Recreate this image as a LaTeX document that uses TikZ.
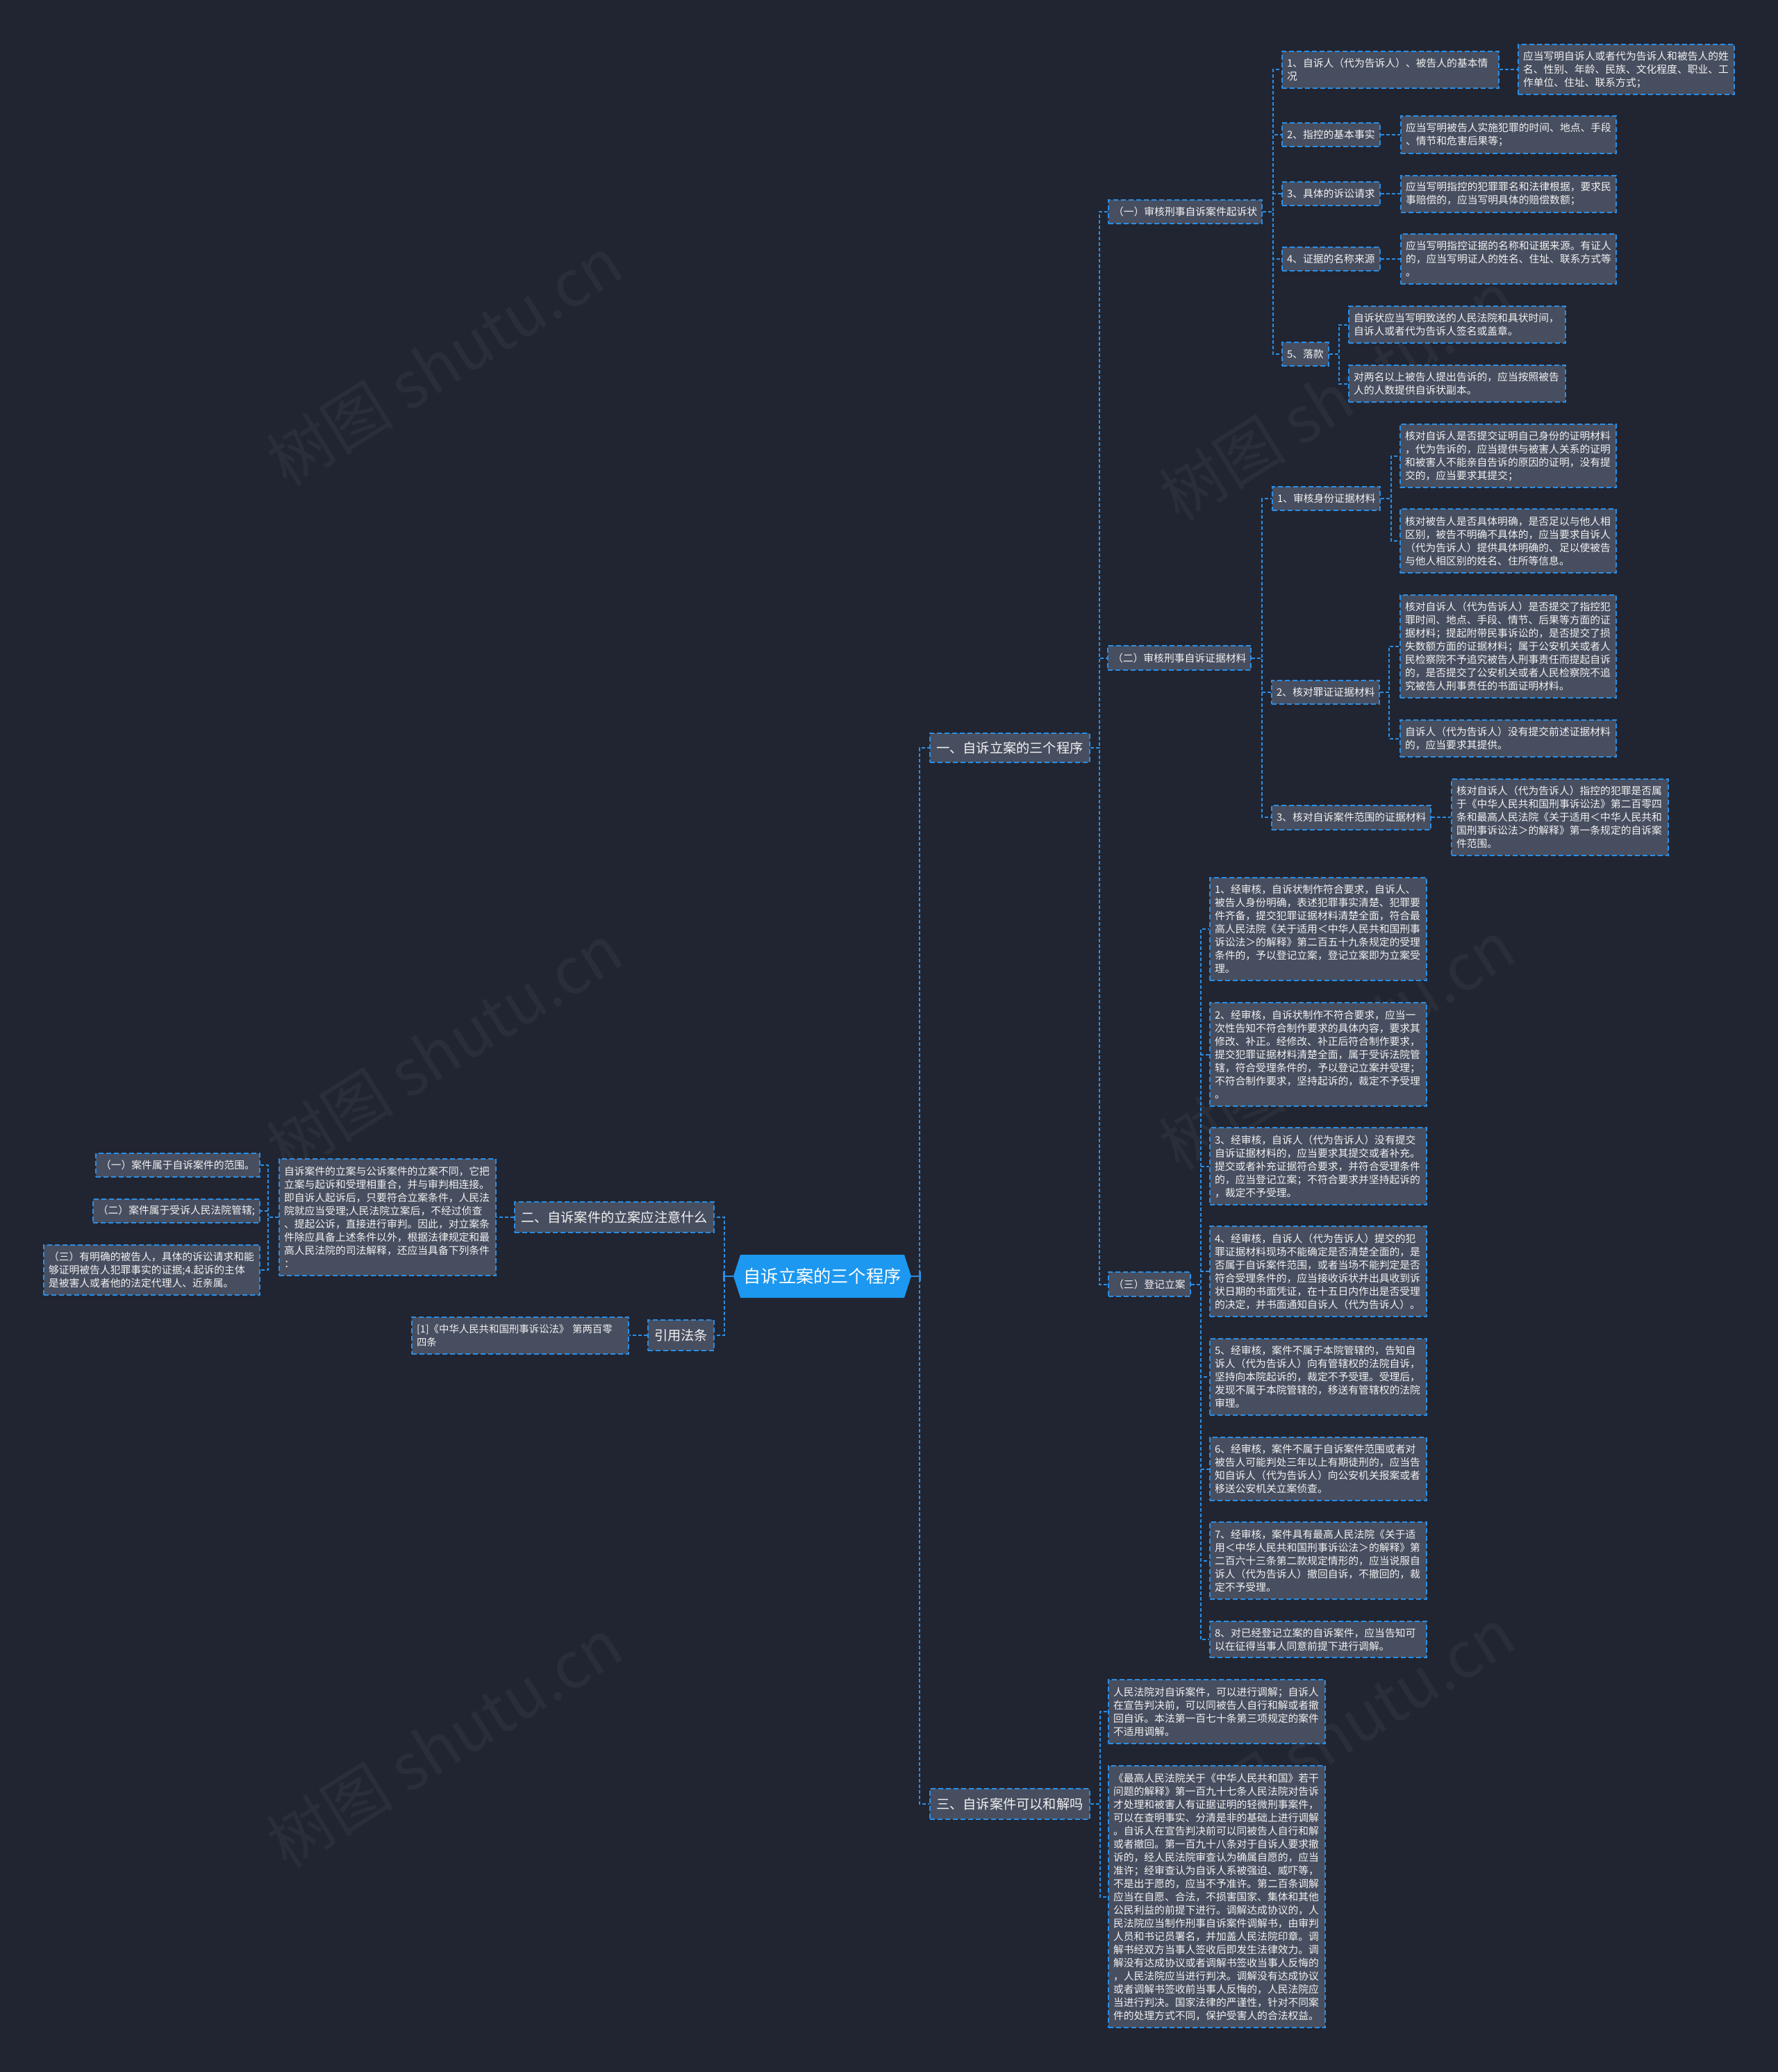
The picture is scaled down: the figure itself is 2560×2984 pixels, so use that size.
\documentclass[tikz,border=0pt]{standalone}
\usepackage{fontspec}
\setmainfont{Noto Sans CJK SC}
\usetikzlibrary{shapes.symbols}
\definecolor{bgc}{HTML}{212531}
\definecolor{nodefill}{HTML}{474E5F}
\definecolor{edgeblue}{HTML}{2A8EE6}
\definecolor{rootblue}{HTML}{1C98F0}
\definecolor{txt}{HTML}{F2F2F2}
\tikzset{
  box/.style={draw=edgeblue, line width=1pt, dash pattern=on 3.5pt off 2pt, fill=nodefill, text=txt, inner xsep=3.5pt, inner ysep=2pt, align=left},
  sm/.style={box, font=\fontsize{7.4pt}{9.5pt}\selectfont},
  lvone/.style={box, font=\fontsize{9.6pt}{12pt}\selectfont, inner xsep=4.6pt},
  conn/.style={draw=edgeblue, line width=1pt, dash pattern=on 2.5pt off 1.5pt},
  solidconn/.style={draw=edgeblue, line width=1.2pt},
  wmark/.style={text=white, opacity=0.045, font=\fontsize{46pt}{46pt}\selectfont, rotate=32},
}
\begin{document}
\begin{tikzpicture}[x=0.5pt,y=-0.5pt]
\useasboundingbox (0,0) rectangle (2560,2984);
\fill[bgc] (0,0) rectangle (2560,2984);
% watermarks
\node[wmark] (w1) at (640,520) {树图 shutu.cn};
\node[wmark] (w2) at (640,1510) {树图 shutu.cn};
\node[wmark] (w3) at (640,2510) {树图 shutu.cn};
\node[wmark] (w4) at (1925,570) {树图 shutu.cn};
\node[wmark] (w5) at (1925,1505) {树图 shutu.cn};
\node[wmark] (w6) at (1925,2495) {树图 shutu.cn};

% root
\node[signal, signal to=east and west, signal pointer angle=144, fill=rootblue, text=white, minimum width=128pt, minimum height=31pt, inner sep=0pt, font=\fontsize{12.6pt}{14pt}\selectfont] (root) at (1184,1838) {自诉立案的三个程序};

% level 1
\node[lvone, anchor=west, minimum height=21pt] (A1) at (1338,1077) {一、自诉立案的三个程序};
\node[lvone, anchor=west, minimum height=22pt] (A3) at (1338,2598) {三、自诉案件可以和解吗};
\node[lvone, anchor=east, minimum height=22pt] (A2) at (1029,1753) {二、自诉案件的立案应注意什么};
\node[lvone, anchor=east, minimum height=22pt] (A4) at (1029,1923) {引用法条};

% left side
\node[sm, anchor=east, minimum height=26.5pt, text width=149pt, font=\fontsize{7.2pt}{9.5pt}\selectfont] (A4a) at (906,1923) {[1]《中华人民共和国刑事诉讼法》 第两百零\\四条};
\node[sm, anchor=east, minimum height=84pt, text width=149pt] (L0) at (715,1753) {自诉案件的立案与公诉案件的立案不同，它把\\立案与起诉和受理相重合，并与审判相连接。\\即自诉人起诉后，只要符合立案条件，人民法\\院就应当受理;人民法院立案后，不经过侦查\\、提起公诉，直接进行审判。因此，对立案条\\件除应具备上述条件以外，根据法律规定和最\\高人民法院的司法解释，还应当具备下列条件\\：};
\node[sm, anchor=east, minimum height=17pt] (L1) at (375,1678) {（一）案件属于自诉案件的范围。};
\node[sm, anchor=east, minimum height=17pt] (L2) at (375,1744) {（二）案件属于受诉人民法院管辖;};
\node[sm, anchor=east, minimum height=36pt, text width=148.5pt] (L3) at (375,1829) {（三）有明确的被告人，具体的诉讼请求和能\\够证明被告人犯罪事实的证据;4.起诉的主体\\是被害人或者他的法定代理人、近亲属。};

% level 2
\node[sm, anchor=west, minimum height=17pt] (B1) at (1595,305) {（一）审核刑事自诉案件起诉状};
\node[sm, anchor=west, minimum height=17.5pt] (B2) at (1594,947.5) {（二）审核刑事自诉证据材料};
\node[sm, anchor=west, minimum height=17.5pt] (B3) at (1595,1849.5) {（三）登记立案};

% B1 children
\node[sm, anchor=west, minimum height=26.5pt, text width=149pt] (C1) at (1845,100) {1、自诉人（代为告诉人）、被告人的基本情\\况};
\node[sm, anchor=west, minimum height=36pt, text width=148.5pt] (C1a) at (2185,100) {应当写明自诉人或者代为告诉人和被告人的姓\\名、性别、年龄、民族、文化程度、职业、工\\作单位、住址、联系方式；};
\node[sm, anchor=west, minimum height=17pt] (C2) at (1845,194) {2、指控的基本事实};
\node[sm, anchor=west, minimum height=27pt, text width=148pt] (C2a) at (2016,194) {应当写明被告人实施犯罪的时间、地点、手段\\、情节和危害后果等；};
\node[sm, anchor=west, minimum height=17pt] (C3) at (1845,279) {3、具体的诉讼请求};
\node[sm, anchor=west, minimum height=26.5pt, text width=148pt] (C3a) at (2016,279) {应当写明指控的犯罪罪名和法律根据，要求民\\事赔偿的，应当写明具体的赔偿数额；};
\node[sm, anchor=west, minimum height=17pt] (C4) at (1845,373) {4、证据的名称来源};
\node[sm, anchor=west, minimum height=36pt, text width=148pt] (C4a) at (2016,373) {应当写明指控证据的名称和证据来源。有证人\\的，应当写明证人的姓名、住址、联系方式等\\。};
\node[sm, anchor=west, minimum height=17pt] (C5) at (1845,510) {5、落款};
\node[sm, anchor=west, minimum height=26.5pt, text width=149pt] (C5a) at (1941,467.5) {自诉状应当写明致送的人民法院和具状时间，\\自诉人或者代为告诉人签名或盖章。};
\node[sm, anchor=west, minimum height=26.5pt, text width=149pt] (C5b) at (1941,552.5) {对两名以上被告人提出告诉的，应当按照被告\\人的人数提供自诉状副本。};

% B2 children
\node[sm, anchor=west, minimum height=17pt] (D1) at (1831,718) {1、审核身份证据材料};
\node[sm, anchor=west, minimum height=45.5pt, text width=148.5pt] (D1a) at (2015,656.5) {核对自诉人是否提交证明自己身份的证明材料\\，代为告诉的，应当提供与被害人关系的证明\\和被害人不能亲自告诉的原因的证明，没有提\\交的，应当要求其提交；};
\node[sm, anchor=west, minimum height=46pt, text width=148.5pt] (D1b) at (2015,779) {核对被告人是否具体明确，是否足以与他人相\\区别，被告不明确不具体的，应当要求自诉人\\（代为告诉人）提供具体明确的、足以使被告\\与他人相区别的姓名、住所等信息。};
\node[sm, anchor=west, minimum height=17pt] (D2) at (1830,997) {2、核对罪证证据材料};
\node[sm, anchor=west, minimum height=74pt, text width=148.5pt] (D2a) at (2015,931) {核对自诉人（代为告诉人）是否提交了指控犯\\罪时间、地点、手段、情节、后果等方面的证\\据材料；提起附带民事诉讼的，是否提交了损\\失数额方面的证据材料；属于公安机关或者人\\民检察院不予追究被告人刑事责任而提起自诉\\的，是否提交了公安机关或者人民检察院不追\\究被告人刑事责任的书面证明材料。};
\node[sm, anchor=west, minimum height=26.5pt, text width=148.5pt] (D2b) at (2015,1063.5) {自诉人（代为告诉人）没有提交前述证据材料\\的，应当要求其提供。};
\node[sm, anchor=west, minimum height=17.5pt] (D3) at (1830,1177) {3、核对自诉案件范围的证据材料};
\node[sm, anchor=west, minimum height=55pt, text width=149pt] (D3a) at (2089,1177) {核对自诉人（代为告诉人）指控的犯罪是否属\\于《中华人民共和国刑事诉讼法》第二百零四\\条和最高人民法院《关于适用＜中华人民共和\\国刑事诉讼法＞的解释》第一条规定的自诉案\\件范围。};

% B3 children
\node[sm, anchor=west, minimum height=74pt, text width=149pt] (E1) at (1741,1338) {1、经审核，自诉状制作符合要求，自诉人、\\被告人身份明确，表述犯罪事实清楚、犯罪要\\件齐备，提交犯罪证据材料清楚全面，符合最\\高人民法院《关于适用＜中华人民共和国刑事\\诉讼法＞的解释》第二百五十九条规定的受理\\条件的，予以登记立案，登记立案即为立案受\\理。};
\node[sm, anchor=west, minimum height=74.5pt, text width=149pt] (E2) at (1741,1518.5) {2、经审核，自诉状制作不符合要求，应当一\\次性告知不符合制作要求的具体内容，要求其\\修改、补正。经修改、补正后符合制作要求，\\提交犯罪证据材料清楚全面，属于受诉法院管\\辖，符合受理条件的，予以登记立案并受理；\\不符合制作要求，坚持起诉的，裁定不予受理\\。};
\node[sm, anchor=west, minimum height=55.5pt, text width=149pt] (E3) at (1741,1679.5) {3、经审核，自诉人（代为告诉人）没有提交\\自诉证据材料的，应当要求其提交或者补充。\\提交或者补充证据符合要求，并符合受理条件\\的，应当登记立案；不符合要求并坚持起诉的\\，裁定不予受理。};
\node[sm, anchor=west, minimum height=65pt, text width=149pt] (E4) at (1741,1831) {4、经审核，自诉人（代为告诉人）提交的犯\\罪证据材料现场不能确定是否清楚全面的，是\\否属于自诉案件范围，或者当场不能判定是否\\符合受理条件的，应当接收诉状并出具收到诉\\状日期的书面凭证，在十五日内作出是否受理\\的决定，并书面通知自诉人（代为告诉人）。};
\node[sm, anchor=west, minimum height=55pt, text width=149pt] (E5) at (1741,1983) {5、经审核，案件不属于本院管辖的，告知自\\诉人（代为告诉人）向有管辖权的法院自诉，\\坚持向本院起诉的，裁定不予受理。受理后，\\发现不属于本院管辖的，移送有管辖权的法院\\审理。};
\node[sm, anchor=west, minimum height=45.5pt, text width=149pt] (E6) at (1741,2115.5) {6、经审核，案件不属于自诉案件范围或者对\\被告人可能判处三年以上有期徒刑的，应当告\\知自诉人（代为告诉人）向公安机关报案或者\\移送公安机关立案侦查。};
\node[sm, anchor=west, minimum height=55.5pt, text width=149pt] (E7) at (1741,2247.5) {7、经审核，案件具有最高人民法院《关于适\\用＜中华人民共和国刑事诉讼法＞的解释》第\\二百六十三条第二款规定情形的，应当说服自\\诉人（代为告诉人）撤回自诉，不撤回的，裁\\定不予受理。};
\node[sm, anchor=west, minimum height=26pt, text width=149pt] (E8) at (1741,2361) {8、对已经登记立案的自诉案件，应当告知可\\以在征得当事人同意前提下进行调解。};

% A3 children
\node[sm, anchor=west, minimum height=46pt, text width=149pt] (F1) at (1595,2465) {人民法院对自诉案件，可以进行调解；自诉人\\在宣告判决前，可以同被告人自行和解或者撤\\回自诉。本法第一百七十条第三项规定的案件\\不适用调解。};
\node[sm, anchor=west, minimum height=188.5pt, text width=149pt] (F2) at (1595,2731.5) {《最高人民法院关于《中华人民共和国》若干\\问题的解释》第一百九十七条人民法院对告诉\\才处理和被害人有证据证明的轻微刑事案件，\\可以在查明事实、分清是非的基础上进行调解\\。自诉人在宣告判决前可以同被告人自行和解\\或者撤回。第一百九十八条对于自诉人要求撤\\诉的，经人民法院审查认为确属自愿的，应当\\准许；经审查认为自诉人系被强迫、威吓等，\\不是出于愿的，应当不予准许。第二百条调解\\应当在自愿、合法，不损害国家、集体和其他\\公民利益的前提下进行。调解达成协议的，人\\民法院应当制作刑事自诉案件调解书，由审判\\人员和书记员署名，并加盖人民法院印章。调\\解书经双方当事人签收后即发生法律效力。调\\解没有达成协议或者调解书签收当事人反悔的\\，人民法院应当进行判决。调解没有达成协议\\或者调解书签收前当事人反悔的，人民法院应\\当进行判决。国家法律的严谨性，针对不同案\\件的处理方式不同，保护受害人的合法权益。};

% connectors
\draw[conn] (root.east) -- ++(6pt,0) |- (A1.west);
\draw[conn] (root.east) -- ++(6pt,0) |- (A3.west);
\draw[solidconn] (root.east) -- ++(6pt,0) ++(0,-7) -- ++(0,14);
\draw[conn] (root.west) -- ++(-6.5pt,0) |- (A2.east);
\draw[conn] (root.west) -- ++(-6.5pt,0) |- (A4.east);
\draw[solidconn] (root.west) -- ++(-6.5pt,0) ++(0,-7) -- ++(0,14);
\draw[conn] (A2.west) -- (L0.east);
\draw[conn] (A4.west) -- (A4a.east);
\foreach \c in {L1,L2,L3}{\draw[conn] (L0.west) -- ++(-7.5pt,0) |- (\c.east);}
\foreach \c in {B1,B2,B3}{\draw[conn] (A1.east) -- ++(6.5pt,0) |- (\c.west);}
\foreach \c in {C1,C2,C3,C4,C5}{\draw[conn] (B1.east) -- ++(7.5pt,0) |- (\c.west);}
\draw[conn] (C1.east) -- (C1a.west);
\draw[conn] (C2.east) -- (C2a.west);
\draw[conn] (C3.east) -- (C3a.west);
\draw[conn] (C4.east) -- (C4a.west);
\foreach \c in {C5a,C5b}{\draw[conn] (C5.east) -- ++(7pt,0) |- (\c.west);}
\foreach \c in {D1,D2,D3}{\draw[conn] (B2.east) -- ++(7.5pt,0) |- (\c.west);}
\foreach \c in {D1a,D1b}{\draw[conn] (D1.east) -- ++(7.5pt,0) |- (\c.west);}
\foreach \c in {D2a,D2b}{\draw[conn] (D2.east) -- ++(6.5pt,0) |- (\c.west);}
\draw[conn] (D3.east) -- (D3a.west);
\foreach \c in {E1,E2,E3,E4,E5,E6,E7,E8}{\draw[conn] (B3.east) -- ++(7pt,0) |- (\c.west);}
\foreach \c in {F1,F2}{\draw[conn] (A3.east) -- ++(7pt,0) |- (\c.west);}
\end{tikzpicture}
\end{document}
